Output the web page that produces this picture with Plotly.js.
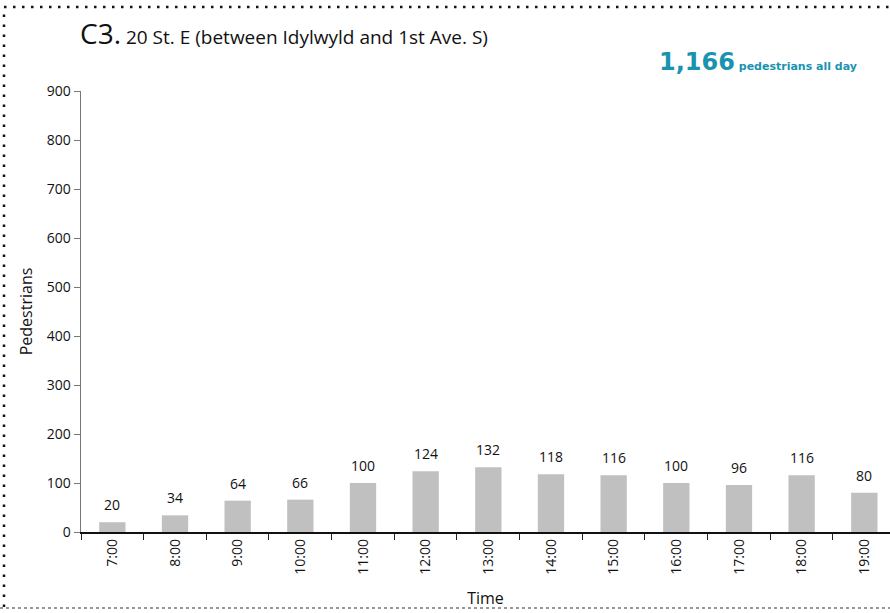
<!DOCTYPE html>
<html><head><meta charset="utf-8">
<script src="https://cdn.plot.ly/plotly-3.0.1.min.js"></script>
<style>html,body{margin:0;padding:0;background:#fff;}#chart{width:890px;height:613px;}</style>
</head><body><div id="chart"></div>
<script>
const times = ["7:00","8:00","9:00","10:00","11:00","12:00","13:00","14:00","15:00","16:00","17:00","18:00","19:00"];
const pedestrians = [20,34,64,66,100,124,132,118,116,100,96,116,80];
const yTicks = [0,100,200,300,400,500,600,700,800,900];
const totalLabel = "1,166";

const font = "Open Sans, Noto Sans, sans-serif";
// pixel helpers for paper coordinates (plot area: x 81..890, y 91..532)
const PX = p => (p - 81) / 809;
const PY = p => (532 - p) / 441;

const labelAnn = times.map((t,i)=>({
  x: t, y: pedestrians[i], xref:'x', yref:'y', text: String(pedestrians[i]),
  showarrow:false, yanchor:'bottom', yshift:6, font:{family:font,size:14,color:'#111'}
}));

const layout = {
  width:890, height:613,
  margin:{l:81, r:0, t:91, b:81},
  paper_bgcolor:'#fff', plot_bgcolor:'#fff',
  showlegend:false,
  bargap:0.58,
  xaxis:{
    type:'category', range:[-0.5, 12.41],
    tickson:'boundaries', ticks:'outside', ticklen:6, tickcolor:'#222',
    showline:true, linecolor:'#111', linewidth:1.5,
    tickangle:-90, tickfont:{family:font,size:14,color:'#111'},
    showgrid:false, zeroline:false,
    title:{text:'Time', font:{family:font,size:16,color:'#111'}, standoff:19}
  },
  yaxis:{
    range:[0,900], tickvals:yTicks, ticks:'outside', ticklen:6, tickcolor:'#777',
    showline:true, linecolor:'#777', linewidth:1.5,
    tickfont:{family:font,size:14,color:'#111'},
    showgrid:false, zeroline:false,
    title:{text:'Pedestrians', font:{family:font,size:16,color:'#111'}, standoff:10}
  },
  shapes:[
    {type:'line', xref:'paper', yref:'paper', x0:PX(4), x1:PX(890), y0:PY(7), y1:PY(7),
     line:{color:'#111', width:2.5, dash:'2.5px,6.5px'}},
    {type:'line', xref:'paper', yref:'paper', x0:PX(4), x1:PX(4), y0:PY(607), y1:PY(7),
     line:{color:'#111', width:2.5, dash:'2.5px,7.5px'}},
    {type:'line', xref:'paper', yref:'paper', x0:PX(0), x1:PX(890), y0:PY(608), y1:PY(608),
     line:{color:'#333', width:1.2, dash:'3px,3px'}}
  ],
  annotations: labelAnn.concat([
    {xref:'paper', yref:'paper', x:PX(78), y:PY(33), xanchor:'left', yanchor:'middle', showarrow:false,
     text:'<span style="font-size:28px">C3.</span> 20 St. E (between Idylwyld and 1st Ave. S)',
     font:{family:font,size:19,color:'#111'}},
    {xref:'paper', yref:'paper', x:PX(859), y:PY(62), xanchor:'right', yanchor:'middle', showarrow:false,
     text:'<b><span style="font-size:24px">'+totalLabel+'</span> <span style="font-size:11px">pedestrians all day</span></b>',
     font:{family:'DejaVu Sans, sans-serif',size:11,color:'#1a93b0'}}
  ])
};

Plotly.newPlot('chart', [{
  type:'bar', x:times, y:pedestrians,
  marker:{color:'#c0c0c0'}, hoverinfo:'none'
}], layout, {displayModeBar:false, staticPlot:true});
</script></body></html>
